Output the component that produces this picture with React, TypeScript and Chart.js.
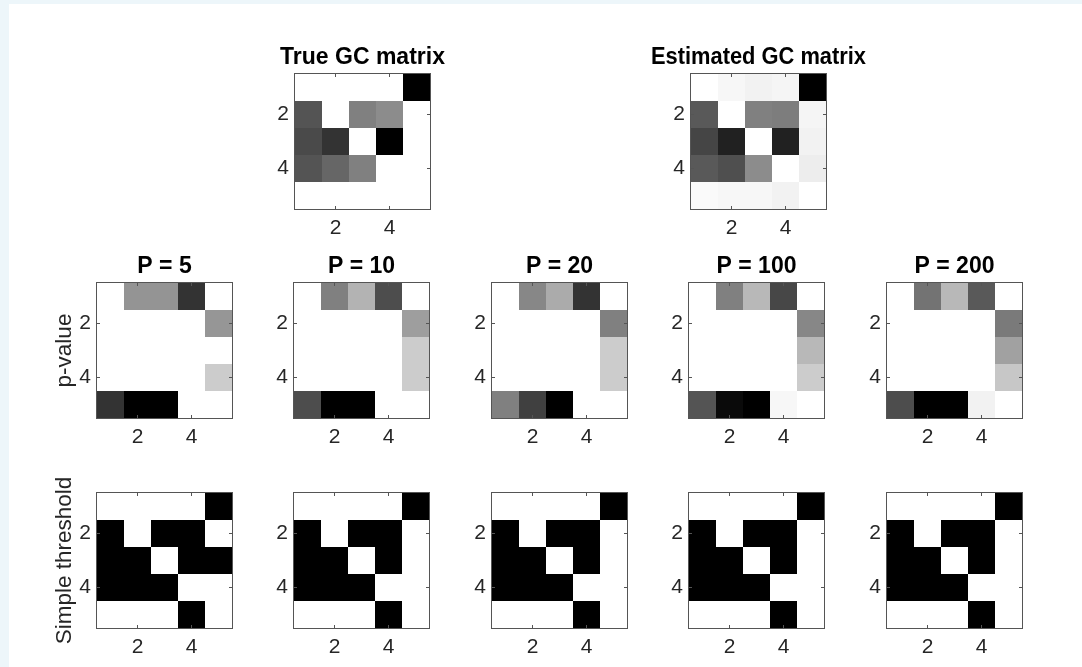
import React, { useEffect, useRef } from 'react';
import { Chart, registerables } from 'chart.js';

Chart.register(...registerables);

// Matrix columns and the tick values shown on both axes
const COLUMN_LABELS = ['1', '2', '3', '4', '5'];
const AXIS_TICKS = [2, 4];

// Granger-causality strength (0 = white, 1 = black)
const trueGC = [
  [0, 0, 0, 0, 1],
  [0.67, 0, 0.5, 0.45, 0],
  [0.71, 0.8, 0, 1, 0],
  [0.67, 0.6, 0.5, 0, 0],
  [0, 0, 0, 0, 0],
];
const estimatedGC = [
  [0, 0.03, 0.05, 0.04, 1],
  [0.65, 0, 0.5, 0.51, 0.04],
  [0.73, 0.87, 0, 0.87, 0.05],
  [0.65, 0.69, 0.45, 0, 0.07],
  [0.02, 0.03, 0.03, 0.05, 0],
];

// p-value significance maps for each sample size P
const pValueP5 = [
  [0, 0.42, 0.42, 0.8, 0],
  [0, 0, 0, 0, 0.41],
  [0, 0, 0, 0, 0],
  [0, 0, 0, 0, 0.2],
  [0.8, 1, 1, 0, 0],
];
const pValueP10 = [
  [0, 0.5, 0.3, 0.7, 0],
  [0, 0, 0, 0, 0.38],
  [0, 0, 0, 0, 0.2],
  [0, 0, 0, 0, 0.2],
  [0.7, 1, 1, 0, 0],
];
const pValueP20 = [
  [0, 0.47, 0.33, 0.8, 0],
  [0, 0, 0, 0, 0.5],
  [0, 0, 0, 0, 0.2],
  [0, 0, 0, 0, 0.2],
  [0.5, 0.75, 1, 0, 0],
];
const pValueP100 = [
  [0, 0.5, 0.28, 0.72, 0],
  [0, 0, 0, 0, 0.47],
  [0, 0, 0, 0, 0.28],
  [0, 0, 0, 0, 0.2],
  [0.67, 0.96, 1, 0.03, 0],
];
const pValueP200 = [
  [0, 0.55, 0.28, 0.65, 0],
  [0, 0, 0, 0, 0.52],
  [0, 0, 0, 0, 0.37],
  [0, 0, 0, 0, 0.22],
  [0.7, 1, 1, 0.05, 0],
];

// Binary maps from a simple threshold
const thresholdP5 = [
  [0, 0, 0, 0, 1],
  [1, 0, 1, 1, 0],
  [1, 1, 0, 1, 1],
  [1, 1, 1, 0, 0],
  [0, 0, 0, 1, 0],
];
const thresholdP10 = [
  [0, 0, 0, 0, 1],
  [1, 0, 1, 1, 0],
  [1, 1, 0, 1, 0],
  [1, 1, 1, 0, 0],
  [0, 0, 0, 1, 0],
];
const thresholdP20 = [
  [0, 0, 0, 0, 1],
  [1, 0, 1, 1, 0],
  [1, 1, 0, 1, 0],
  [1, 1, 1, 0, 0],
  [0, 0, 0, 1, 0],
];
const thresholdP100 = [
  [0, 0, 0, 0, 1],
  [1, 0, 1, 1, 0],
  [1, 1, 0, 1, 0],
  [1, 1, 1, 0, 0],
  [0, 0, 0, 1, 0],
];
const thresholdP200 = [
  [0, 0, 0, 0, 1],
  [1, 0, 1, 1, 0],
  [1, 1, 0, 1, 0],
  [1, 1, 1, 0, 0],
  [0, 0, 0, 1, 0],
];

const P_TITLES = ['P = 5', 'P = 10', 'P = 20', 'P = 100', 'P = 200'];
const P_VALUE_MAPS = [pValueP5, pValueP10, pValueP20, pValueP100, pValueP200];
const THRESHOLD_MAPS = [thresholdP5, thresholdP10, thresholdP20, thresholdP100, thresholdP200];

const FONT = '"Liberation Sans", Arial, Helvetica, sans-serif';
const CELL = 27;
const COLUMN_LEFTS = [97, 294, 492, 689, 887];

type PanelSpec = {
  key: string;
  matrix: number[][];
  left: number;
  top: number;
  title?: string;
  yTitle?: string;
};

const PANELS: PanelSpec[] = [
  { key: 'true', matrix: trueGC, left: 295, top: 74, title: 'True GC matrix' },
  { key: 'est', matrix: estimatedGC, left: 691, top: 74, title: 'Estimated GC matrix' },
  ...P_VALUE_MAPS.map((m, i) => ({
    key: 'p' + i,
    matrix: m,
    left: COLUMN_LEFTS[i],
    top: 283,
    title: P_TITLES[i],
    yTitle: i === 0 ? 'p-value' : undefined,
  })),
  ...THRESHOLD_MAPS.map((m, i) => ({
    key: 't' + i,
    matrix: m,
    left: COLUMN_LEFTS[i],
    top: 493,
    yTitle: i === 0 ? 'Simple threshold' : undefined,
  })),
];

function gray(v: number) {
  const c = Math.round(255 * (1 - v));
  return `rgb(${c},${c},${c})`;
}

// Axes box with short inward tick marks on all four sides
const framePlugin = {
  id: 'frame',
  afterDatasetsDraw(chart: any) {
    const { ctx, chartArea: a, scales } = chart;
    ctx.save();
    ctx.strokeStyle = '#555555';
    ctx.lineWidth = 1;
    ctx.strokeRect(a.left - 0.5, a.top - 0.5, a.right - a.left + 1, a.bottom - a.top + 1);
    const tl = 3;
    ctx.beginPath();
    scales.x.ticks.forEach((t: any) => {
      const px = Math.floor(scales.x.getPixelForValue(t.value)) + 0.5;
      ctx.moveTo(px, a.bottom);
      ctx.lineTo(px, a.bottom - tl);
      ctx.moveTo(px, a.top);
      ctx.lineTo(px, a.top + tl);
    });
    scales.y.ticks.forEach((t: any) => {
      const py = Math.floor(scales.y.getPixelForValue(t.value)) + 0.5;
      ctx.moveTo(a.left, py);
      ctx.lineTo(a.left + tl, py);
      ctx.moveTo(a.right, py);
      ctx.lineTo(a.right - tl, py);
    });
    ctx.stroke();
    ctx.restore();
  },
};

function Panel({ spec }: { spec: PanelSpec }) {
  const ref = useRef<HTMLCanvasElement>(null);
  const L = spec.yTitle ? 70 : 40;
  const T = spec.title ? 30 : 20;
  const B = 40;
  const w = CELL * 5 + 2 * L;
  const h = T + CELL * 5 + B;

  useEffect(() => {
    if (!ref.current) return;
    const noOverflow = (s: any) => {
      s.paddingTop = 0;
      s.paddingBottom = 0;
      s.paddingLeft = 0;
      s.paddingRight = 0;
    };
    const chart = new Chart(ref.current, {
      type: 'bar',
      data: {
        labels: COLUMN_LABELS,
        datasets: spec.matrix.map((row, r) => ({
          data: row.map(() => [r + 0.5, r + 1.5]),
          backgroundColor: row.map(gray),
          borderWidth: 0,
          inflateAmount: 0,
          barPercentage: 1,
          categoryPercentage: 1,
          grouped: false,
        })),
      } as any,
      options: {
        responsive: false,
        animation: false,
        events: [],
        layout: {
          autoPadding: false,
          padding: { top: spec.title ? 0 : T, left: 0, right: 0, bottom: 0 },
        },
        plugins: {
          legend: { display: false },
          tooltip: { enabled: false },
          title: {
            display: !!spec.title,
            text: spec.title || '',
            color: '#000000',
            font: { family: FONT, size: 23, weight: 'bold', lineHeight: 1.2 },
            padding: { top: 0, bottom: 2.4 },
          },
        },
        scales: {
          x: {
            type: 'category',
            offset: true,
            grid: { display: false, drawTicks: false },
            border: { display: false },
            ticks: {
              color: '#262626',
              font: { family: FONT, size: 21 },
              padding: 7,
              maxRotation: 0,
              autoSkip: false,
            },
            afterBuildTicks: (s: any) => {
              s.ticks = s.ticks.filter((t: any) => AXIS_TICKS.includes(Number(COLUMN_LABELS[t.value])));
            },
            afterFit: (s: any) => {
              s.height = B;
              noOverflow(s);
            },
          },
          y: {
            type: 'linear',
            min: 0.5,
            max: 5.5,
            reverse: true,
            grid: { display: false, drawTicks: false },
            border: { display: false },
            ticks: {
              color: '#262626',
              font: { family: FONT, size: 21 },
              padding: 6,
            },
            title: {
              display: !!spec.yTitle,
              text: spec.yTitle || '',
              color: '#262626',
              font: { family: FONT, size: 22.5, lineHeight: 1.2 },
              padding: { top: 24.5, bottom: 0 },
            },
            afterBuildTicks: (s: any) => {
              s.ticks = AXIS_TICKS.map((v) => ({ value: v }));
            },
            afterFit: (s: any) => {
              s.width = L;
              noOverflow(s);
            },
          },
          yr: {
            type: 'linear',
            position: 'right',
            display: true,
            grid: { display: false, drawTicks: false },
            border: { display: false },
            ticks: { display: false },
            afterFit: (s: any) => {
              s.width = L;
              noOverflow(s);
            },
          },
        },
      } as any,
      plugins: [framePlugin],
    });
    return () => chart.destroy();
  }, []);

  return (
    <canvas
      ref={ref}
      width={w}
      height={h}
      style={{
        position: 'absolute',
        left: spec.left - L,
        top: spec.top - T,
        width: w,
        height: h,
      }}
    />
  );
}

export default function App() {
  return (
    <div
      style={{
        position: 'fixed',
        left: 0,
        top: 0,
        width: 1082,
        height: 667,
        background: '#edf6fa',
        overflow: 'hidden',
      }}
    >
      <div
        style={{
          position: 'absolute',
          left: 9,
          top: 4,
          right: 0,
          bottom: 0,
          background: '#ffffff',
        }}
      />
      {PANELS.map((p) => (
        <Panel key={p.key} spec={p} />
      ))}
    </div>
  );
}
